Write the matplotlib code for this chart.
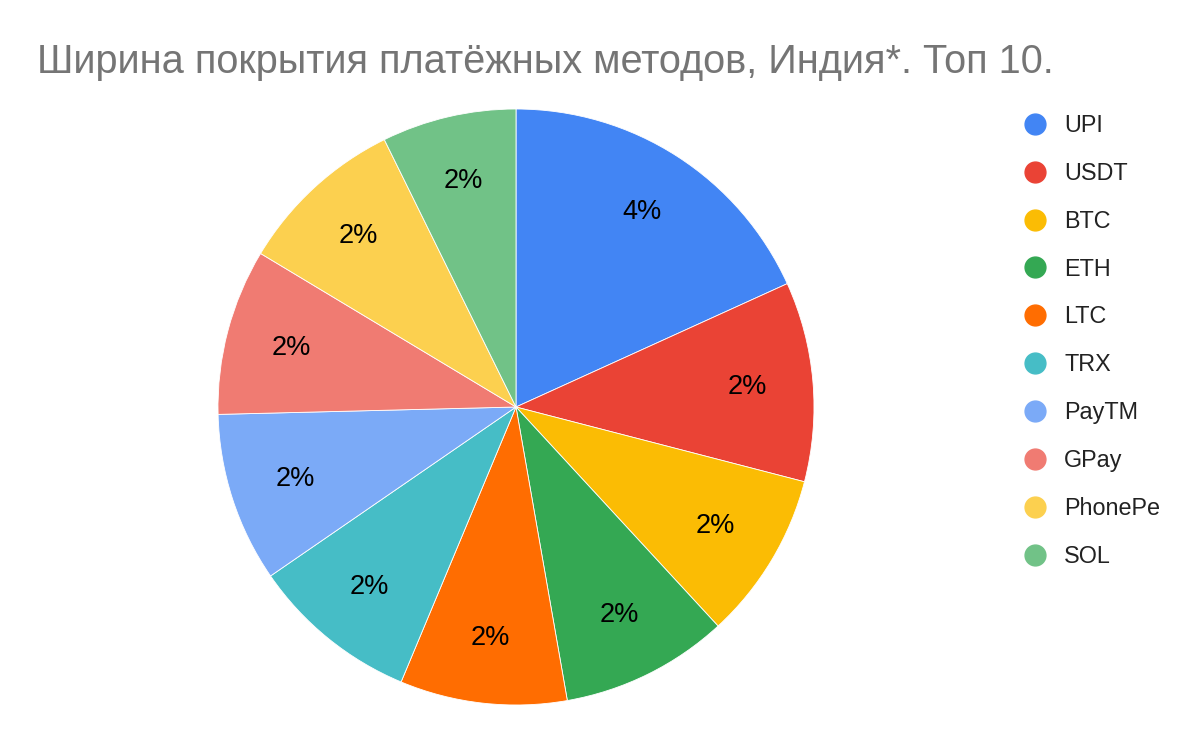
import matplotlib
matplotlib.use("Agg")
import matplotlib.pyplot as plt
from matplotlib.lines import Line2D

plt.rcParams['font.family'] = ['Liberation Sans', 'DejaVu Sans']

# values in %
methods = ["UPI", "USDT", "BTC", "ETH", "LTC", "TRX", "PayTM", "GPay", "PhonePe", "SOL"]
shares = [3.8, 2.26, 1.9, 1.9, 1.89, 1.9, 1.92, 1.88, 1.9, 1.52]
colors = ["#4285F4", "#EA4335", "#FBBC04", "#34A853", "#FF6D01",
          "#46BDC6", "#7BAAF7", "#F07B72", "#FCD04F", "#71C287"]
title = "Ширина покрытия платёжных методов, Индия*. Топ 10."


def main():
    fig = plt.figure(figsize=(12, 7.42), dpi=100)
    fig.patch.set_facecolor("white")

    # pie axes: center at (516, 407) px, radius ~298 px
    ax = fig.add_axes([(516 - 300) / 1200, (742 - 407 - 300) / 742, 600 / 1200, 600 / 742])
    total = sum(shares)
    ax.pie(shares, colors=colors, startangle=90, counterclock=False,
           radius=298 / 300,
           autopct=lambda p: f"{round(p * total / 100)}%",
           pctdistance=0.78,
           wedgeprops=dict(edgecolor="white", linewidth=0.6),
           textprops=dict(fontsize=19.5, color="black"))
    ax.set_xlim(-1, 1)
    ax.set_ylim(-1, 1)
    ax.set_aspect("equal")
    ax.axis("off")

    fig.text(37 / 1200, 1 - 62 / 742, title, fontsize=28.6, color="#757575",
             ha="left", va="center")

    handles = [Line2D([], [], linestyle="none", marker="o", markersize=15,
                      markerfacecolor=c, markeredgecolor=c) for c in colors]
    fig.legend(handles, methods, loc="upper left",
               bbox_to_anchor=(1012 / 1200, 1 - 114 / 742),
               frameon=False, fontsize=16.8, labelspacing=1.066,
               handletextpad=0.24, borderpad=0, borderaxespad=0,
               labelcolor="#222222")

    fig.savefig("out.png", dpi=100, facecolor="white")


if __name__ == "__main__":
    main()
